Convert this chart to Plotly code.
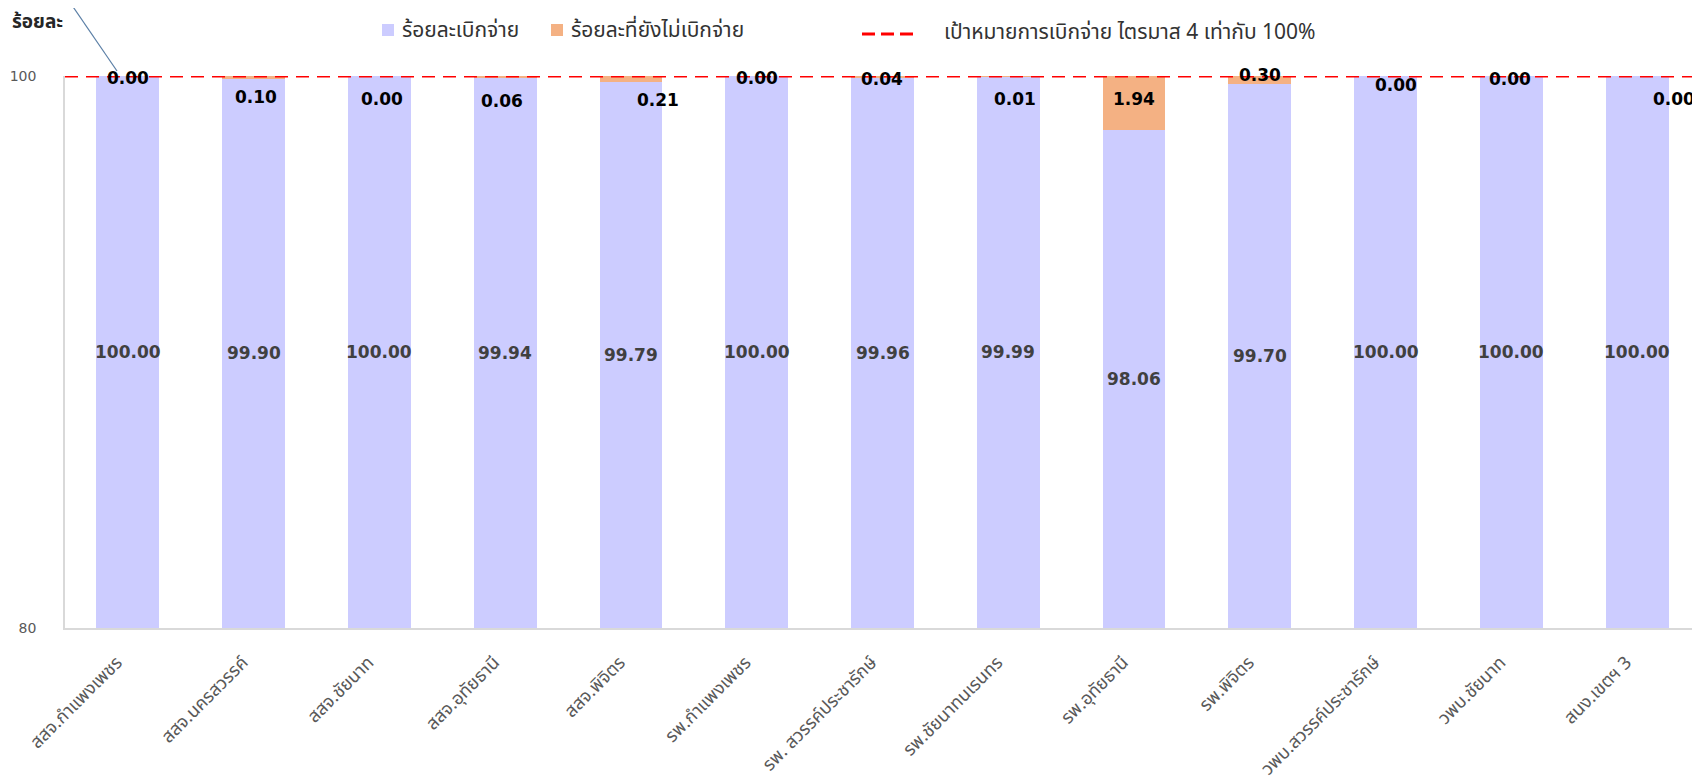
import plotly.graph_objects as go

categories = ["สสจ.กำแพงเพชร", "สสจ.นครสวรรค์", "สสจ.ชัยนาท", "สสจ.อุทัยธานี", "สสจ.พิจิตร",
              "รพ.กำแพงเพชร", "รพ. สวรรค์ประชารักษ์", "รพ.ชัยนาทนเรนทร", "รพ.อุทัยธานี", "รพ.พิจิตร",
              "วพบ.สวรรค์ประชารักษ์", "วพบ.ชัยนาท", "สนง.เขตฯ 3"]
disbursed = [100.00, 99.90, 100.00, 99.94, 99.79, 100.00, 99.96, 99.99, 98.06, 99.70, 100.00, 100.00, 100.00]
not_disbursed = [0.00, 0.10, 0.00, 0.06, 0.21, 0.00, 0.04, 0.01, 1.94, 0.30, 0.00, 0.00, 0.00]
target = 100
y_ticks = [80, 100]

# label placement offsets (pixels) for the orange-series labels
orange_dx = [0, 2, 3, -3, 27, 0, -1, 7, 0, 0, 10, -1, 37]
orange_dy = [-2, -21, -23, -25, -24, -2, -3, -23, -23, 1, -9, -3, -23]

# page has an 8px body margin; figure is sized to fit the window
BODY = 8
W, H = 1700 - BODY, 781 - BODY
PL, PR, PT, PB = 65, 1700, 76, 628          # plot area in page pixels
ML, MT = PL - BODY, PT - BODY
MR = (W + BODY) - PR
MB = (H + BODY) - PB
PW, PH = PR - PL, PB - PT


def px(x):
    return (x - PL) / PW


def py(y):
    return (PB - y) / PH


BLUE = "#CCCCFF"
ORANGE = "#F4B183"
NUMFONT = "DejaVu Sans"
THAIFONT = "Tahoma, 'Noto Sans Thai', 'DejaVu Sans', sans-serif"

fig = go.Figure()
fig.add_trace(go.Bar(x=categories, y=disbursed, name="ร้อยละเบิกจ่าย",
                     marker=dict(color=BLUE, line=dict(width=0)), showlegend=False))
fig.add_trace(go.Bar(x=categories, y=not_disbursed, name="ร้อยละที่ยังไม่เบิกจ่าย",
                     marker=dict(color=ORANGE, line=dict(width=0)), showlegend=False))

annotations = []
y_min = y_ticks[0]
for c, v in zip(categories, disbursed):
    annotations.append(dict(x=c, y=(y_min + v) / 2, xref="x", yref="y", text=f"<b>{v:.2f}</b>",
                            showarrow=False, font=dict(family=NUMFONT, size=17, color="#404040"),
                            xanchor="center", yanchor="middle"))
for c, v, dx, dy in zip(categories, not_disbursed, orange_dx, orange_dy):
    annotations.append(dict(x=c, y=target, xref="x", yref="y", text=f"<b>{v:.2f}</b>",
                            showarrow=False, font=dict(family=NUMFONT, size=17, color="#000000"),
                            xanchor="center", yanchor="middle", xshift=dx, yshift=dy))

# y-axis title
annotations.append(dict(x=px(11), y=py(22), xref="paper", yref="paper", text="<b>ร้อยละ</b>",
                        showarrow=False, font=dict(family=THAIFONT, size=19, color="#262626"),
                        xanchor="left", yanchor="middle", borderpad=0))

# legend (manual)
legend_items = [
    (400, 30, "ร้อยละเบิกจ่าย"),
    (569, 30, "ร้อยละที่ยังไม่เบิกจ่าย"),
    (942, 32, "เป้าหมายการเบิกจ่าย ไตรมาส 4 เท่ากับ 100%"),
]
for x0, y0, t in legend_items:
    annotations.append(dict(x=px(x0), y=py(y0), xref="paper", yref="paper", text=t,
                            showarrow=False, font=dict(family=THAIFONT, size=21, color="#333333"),
                            xanchor="left", yanchor="middle"))

shapes = [
    dict(type="rect", xref="paper", yref="paper", x0=px(382), x1=px(394), y0=py(36), y1=py(24),
         fillcolor=BLUE, line=dict(width=0)),
    dict(type="rect", xref="paper", yref="paper", x0=px(551), x1=px(563), y0=py(36), y1=py(24),
         fillcolor=ORANGE, line=dict(width=0)),
    dict(type="line", xref="paper", yref="paper", x0=px(862), x1=px(913), y0=py(34), y1=py(34),
         line=dict(color="#FF0000", width=3, dash="13px,6px")),
    # target line
    dict(type="line", xref="paper", yref="y", x0=0, x1=1, y0=target, y1=target,
         line=dict(color="#FF0000", width=3, dash="13px,8px"), layer="above"),
    # leader line
    dict(type="line", xref="paper", yref="paper", x0=px(67), y0=py(-2), x1=px(117), y1=py(71),
         line=dict(color="#5B7FA6", width=1.2)),
]

fig.update_layout(
    width=W, height=H,
    margin=dict(l=ML, r=MR, t=MT, b=MB, pad=0, autoexpand=False),
    barmode="stack", bargap=0.5,
    plot_bgcolor="white", paper_bgcolor="white",
    annotations=annotations, shapes=shapes,
    xaxis=dict(tickangle=-45, tickfont=dict(family=THAIFONT, size=18, color="#595959"),
               showline=True, linecolor="#D9D9D9", linewidth=1.5, showgrid=False, ticks="",
               ticklabelstandoff=15, ticklabelshift=-11, automargin=False,
               range=[-0.5, len(categories) - 0.5]),
    yaxis=dict(range=[y_ticks[0], y_ticks[-1]], tickvals=y_ticks,
               tickfont=dict(family=NUMFONT, size=14, color="#595959"),
               showline=True, linecolor="#D9D9D9", linewidth=1.5, showgrid=True,
               gridcolor="#D9D9D9", zeroline=False, ticks="", ticklabelstandoff=24,
               automargin=False),
    hovermode=False,
)

fig.write_html("out.html")
